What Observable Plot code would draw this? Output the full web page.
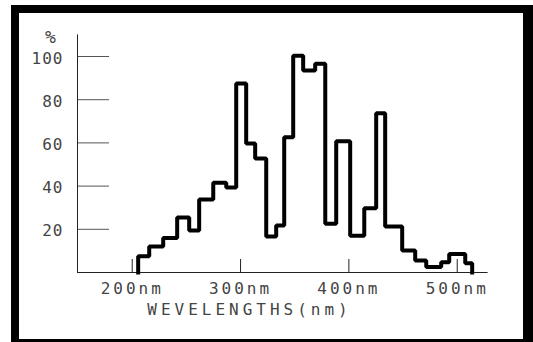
<!DOCTYPE html>
<html><head><meta charset="utf-8">
<script src="https://cdn.jsdelivr.net/npm/d3@7"></script>
<script src="https://cdn.jsdelivr.net/npm/@observablehq/plot@0.6"></script>
<style>
html,body{margin:0;padding:0;background:#fff;}
#wrap{position:relative;width:533px;height:342px;overflow:hidden;}
#frame{position:absolute;left:11px;top:5px;width:530px;height:345px;background:#000;}
#inner{position:absolute;left:19px;top:13px;width:504px;height:326px;background:#fff;}
#chart{position:absolute;left:0;top:0;}
</style></head><body>
<div id="wrap"><div id="frame"></div><div id="inner"></div><div id="chart"></div></div>
<script>
// Bin edges (nm) and percent heights
const binEdges = [205.5, 215.7, 228.6, 241.5, 252.6, 261.8, 274.8, 286.8, 296.0, 305.2,
  313.5, 323.7, 332.9, 340.3, 348.6, 357.8, 368.9, 378.2, 388.3, 401.2,
  414.2, 425.2, 433.5, 449.2, 461.2, 471.4, 485.2, 492.6, 507.4, 513.8];
const percentValues = [7.5, 12, 16, 25.5, 19.4, 33.8, 41.6, 39.3, 87.5, 59.7,
  52.8, 16.7, 21.8, 62.6, 100.3, 93.5, 96.6, 22.6, 60.8, 17,
  29.8, 73.7, 21.3, 10.2, 5.6, 2.5, 4.8, 8.6, 4.3];
const xTickValues = [200, 300, 400, 500];
const xTickLabels = ["200nm", "300nm", "400nm", "500nm"];
const yTickValues = [20, 40, 60, 80, 100];
const yTickLabels = ["20", "40", "60", "80", "100"];
const yAxisLabel = "%";
const xAxisLabel = "WEVELENGTHS(nm)";

const W = 533, H = 342;
const mL = 77, mR = 45.4, mT = 34.4, mB = 70;
const frameW = W - mL - mR, frameH = H - mT - mB;
const xDomain = [149.5, 528.5];
const yDomain = [0, 110];

const points = [{x: binEdges[0], y: 0}];
percentValues.forEach((v, i) => points.push({x: binEdges[i], y: v}));
points.push({x: binEdges[binEdges.length - 1], y: percentValues[percentValues.length - 1]});
points.push({x: binEdges[binEdges.length - 1], y: 0});

const font = "DejaVu Sans Mono";
const txt = "#444";
const svg = Plot.plot({
  width: W, height: H,
  marginLeft: mL, marginRight: mR, marginTop: mT, marginBottom: mB,
  style: {background: "transparent", fontFamily: font, fontSize: "16px"},
  x: {domain: xDomain, axis: null},
  y: {domain: yDomain, axis: null},
  marks: [
    Plot.tickY(yTickValues, {y: d => d, insetRight: frameW - 32, stroke: "#555", strokeWidth: 1}),
    Plot.tickX(xTickValues, {x: d => d, insetTop: frameH - 13, stroke: "#222", strokeWidth: 1}),
    Plot.ruleY([0], {stroke: "#222", strokeWidth: 1}),
    Plot.ruleX([xDomain[0]], {stroke: "#222", strokeWidth: 1}),
    Plot.line(points, {x: "x", y: "y", curve: "step-after", stroke: "#000", strokeWidth: 4, strokeLinejoin: "miter", strokeLinecap: "square"}),
    Plot.text(yTickValues, {y: d => d, text: (d, i) => yTickLabels[i], frameAnchor: "left", textAnchor: "end", dx: -14, dy: 2, fill: txt, fontSize: 16}),
    Plot.text(xTickValues, {x: d => d, text: (d, i) => xTickLabels[i], frameAnchor: "bottom", textAnchor: "middle", dy: 21, fill: txt, fontSize: 16}),
    Plot.text([yAxisLabel], {frameAnchor: "top-left", text: d => d, textAnchor: "middle", dx: -27, dy: -5, fill: txt, fontSize: 18}),
    Plot.text([xAxisLabel], {frameAnchor: "bottom-left", text: d => d, textAnchor: "middle", dx: 172, dy: 42, fill: txt, fontSize: 16})
  ]
});
svg.querySelectorAll('text').forEach(t => {
  const s = t.textContent;
  if (xTickLabels.includes(s)) t.setAttribute("letter-spacing", "3");
  else if (yTickLabels.includes(s)) t.setAttribute("letter-spacing", "1");
  else if (s === xAxisLabel) t.setAttribute("letter-spacing", "4");
});
document.getElementById("chart").appendChild(svg);
</script>
</body></html>
